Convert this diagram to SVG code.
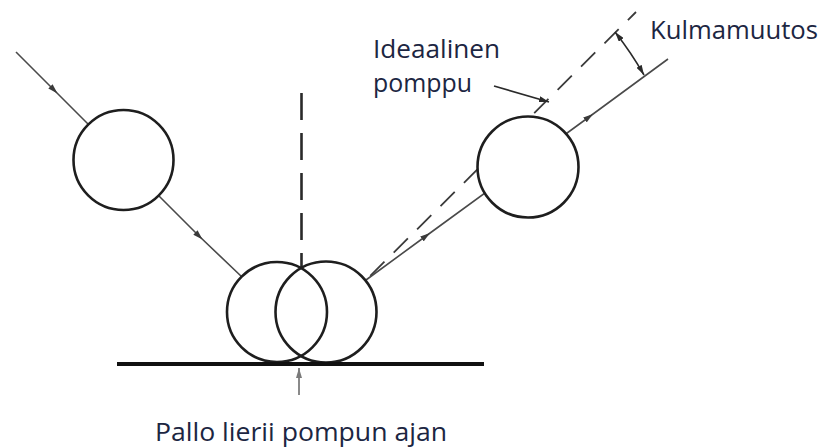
<svg xmlns="http://www.w3.org/2000/svg" width="824" height="448" viewBox="0 0 824 448">
<style>
.ball{fill:#fff;stroke:#1e1e1e;stroke-width:2.6}
.ring{fill:none;stroke:#1e1e1e;stroke-width:2.6}
.path{fill:none;stroke:#4a4a4a;stroke-width:1.6}
.dash{fill:none;stroke:#3a3a3a;stroke-width:1.8;stroke-dasharray:20 13}
.vdash{fill:none;stroke:#2a2a2a;stroke-width:2.6;stroke-dasharray:27 13}
.lead{fill:none;stroke:#2a2a2a;stroke-width:1.6}
.lbl{font-family:"Open Sans","Noto Sans",sans-serif;font-size:26px;fill:#1c2642}
</style>
<defs>
<marker id="ah" viewBox="0 0 10 6" refX="5" refY="3" markerWidth="10" markerHeight="6" markerUnits="userSpaceOnUse" orient="auto">
<path d="M0,0 L10,3 L0,6 Z" fill="#3a3a3a"/>
</marker>
<marker id="tip" viewBox="0 0 10 6" refX="10" refY="3" markerWidth="10" markerHeight="6" markerUnits="userSpaceOnUse" orient="auto">
<path d="M0,0 L10,3 L0,6 Z" fill="#2a2a2a"/>
</marker>
<marker id="tipS" viewBox="0 0 10 6" refX="0" refY="3" markerWidth="10" markerHeight="6" markerUnits="userSpaceOnUse" orient="auto">
<path d="M10,0 L0,3 L10,6 Z" fill="#2a2a2a"/>
</marker>
<marker id="tipG" viewBox="0 0 10 6" refX="10" refY="3" markerWidth="10" markerHeight="6" markerUnits="userSpaceOnUse" orient="auto">
<path d="M0,0 L10,3 L0,6 Z" fill="#7a7a7a"/>
</marker>
</defs>

<g id="connectors">
<path class="vdash" d="M301.5,93 L301.5,268"/>
<path class="path" d="M16,52 L54,90 L88,124" marker-mid="url(#ah)"/>
<path class="path" d="M159,196 L199,236 L242,277" marker-mid="url(#ah)"/>
<path class="dash" d="M366,280 L636,12" stroke-dashoffset="-6"/>
<path class="path" d="M366,280 L426,236 L589,117 L668,59" marker-mid="url(#ah)"/>
<path class="lead" d="M615,32 A347,347 0 0 1 644,75" marker-start="url(#tipS)" marker-end="url(#tip)"/>
<path class="lead" d="M494,86 L549,102" marker-end="url(#tip)"/>
<path d="M299,395 L299,368" stroke="#8a8a8a" stroke-width="2" fill="none" marker-end="url(#tipG)"/>
</g>

<g id="ball-incoming">
<circle class="ball" cx="123.5" cy="160" r="50"/>
</g>
<g id="ball-outgoing">
<circle class="ball" cx="528" cy="167" r="50.5"/>
</g>
<g id="ball-contact">
<circle class="ring" cx="277" cy="312" r="50"/>
<circle class="ring" cx="326" cy="312" r="50.5"/>
</g>
<g id="ground">
<line x1="117" y1="364" x2="484" y2="364" stroke="#111" stroke-width="4"/>
</g>

<g id="label-ideal">
<text class="lbl" x="373" y="58" textLength="127" lengthAdjust="spacingAndGlyphs">Ideaalinen</text>
<text class="lbl" x="373" y="92" textLength="99" lengthAdjust="spacingAndGlyphs">pomppu</text>
</g>
<g id="label-angle">
<text class="lbl" x="650" y="39" textLength="168" lengthAdjust="spacingAndGlyphs">Kulmamuutos</text>
</g>
<g id="label-roll">
<text class="lbl" x="155" y="441" textLength="292" lengthAdjust="spacingAndGlyphs">Pallo lierii pompun ajan</text>
</g>
</svg>
